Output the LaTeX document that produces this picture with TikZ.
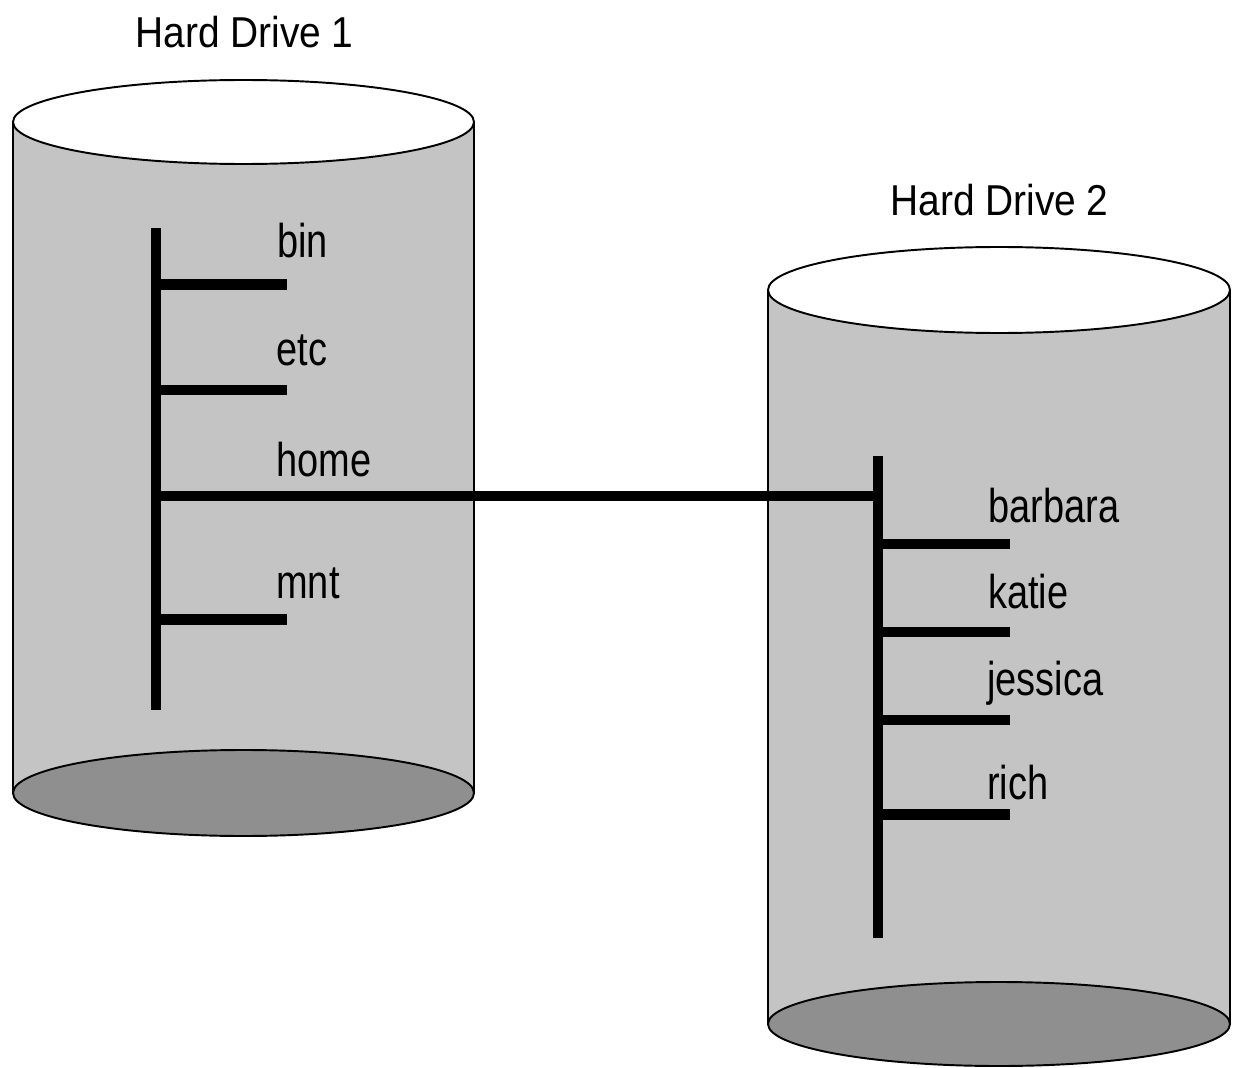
\documentclass[tikz,border=0pt]{standalone}
\usepackage{fontspec}
\setmainfont{Liberation Sans}[FakeStretch=0.8]
\newfontfamily\titlefont{Liberation Sans}[FakeStretch=0.9]
\definecolor{bodygray}{HTML}{C4C4C4}
\definecolor{basegray}{HTML}{8F8F8F}
\begin{document}
\begin{tikzpicture}[x=0.02cm,y=-0.02cm,
  outline/.style={draw=black,line width=1.1pt},
  tree/.style={line width=6.2pt,line cap=butt},
  lbl/.style={anchor=base west,inner sep=0pt,font=\fontsize{27}{30}\selectfont},
  ttl/.style={anchor=base west,inner sep=0pt,font=\titlefont\fontsize{24.6}{28}\selectfont}]
\useasboundingbox (0,0) rectangle (1235,1068);
% Cylinder 1
\fill[bodygray] (13,122) rectangle (474,793);
\draw[line width=1.1pt] (13,122) -- (13,793) (474,122) -- (474,793);
\draw[outline,fill=basegray] (243.5,793) ellipse [x radius=230.5,y radius=43];
\draw[outline,fill=white] (243.5,122) ellipse [x radius=230.5,y radius=42];
% Cylinder 2
\fill[bodygray] (768,290) rectangle (1230,1024);
\draw[line width=1.1pt] (768,290) -- (768,1024) (1230,290) -- (1230,1024);
\draw[outline,fill=basegray] (999,1024) ellipse [x radius=231,y radius=42];
\draw[outline,fill=white] (999,290) ellipse [x radius=231,y radius=43];
% titles
\node[ttl] (t1) at (135,48) {Hard Drive 1};
\node[ttl] (t2) at (890,215) {Hard Drive 2};
% tree 1 coordinates
\coordinate (a0) at (156,228);
\coordinate (a1) at (156,710);
\coordinate (ab) at (156,284.5); \coordinate (abe) at (287,284.5);
\coordinate (ae) at (156,390);   \coordinate (aee) at (287,390);
\coordinate (ah) at (156,496);
\coordinate (am) at (156,619.5); \coordinate (ame) at (287,619.5);
% tree 2 coordinates
\coordinate (b0) at (878,456);
\coordinate (b1) at (878,938);
\coordinate (bh) at (878,496);
\coordinate (bb) at (878,544);   \coordinate (bbe) at (1010,544);
\coordinate (bk) at (878,632);   \coordinate (bke) at (1010,632);
\coordinate (bj) at (878,720);   \coordinate (bje) at (1010,720);
\coordinate (br) at (878,814.5); \coordinate (bre) at (1010,814.5);
\draw[tree] (a0) -- (a1);
\draw[tree] (ab) -- (abe);
\draw[tree] (ae) -- (aee);
\draw[tree] (am) -- (ame);
\draw[tree] (b0) -- (b1);
\draw[tree] (bb) -- (bbe);
\draw[tree] (bk) -- (bke);
\draw[tree] (bj) -- (bje);
\draw[tree] (br) -- (bre);
\draw[tree] (ah) -- (bh);
% labels
\node[lbl] (bin) at (277,257) {bin};
\node[lbl] (etc) at (276,365) {etc};
\node[lbl] (home) at (276,476) {home};
\node[lbl] (mnt) at (276,598) {mnt};
\node[lbl] (barbara) at (988,522) {barbara};
\node[lbl] (katie) at (988,608) {katie};
\node[lbl] (jessica) at (987,695) {jessica};
\node[lbl] (rich) at (987,799) {rich};
\end{tikzpicture}
\end{document}
